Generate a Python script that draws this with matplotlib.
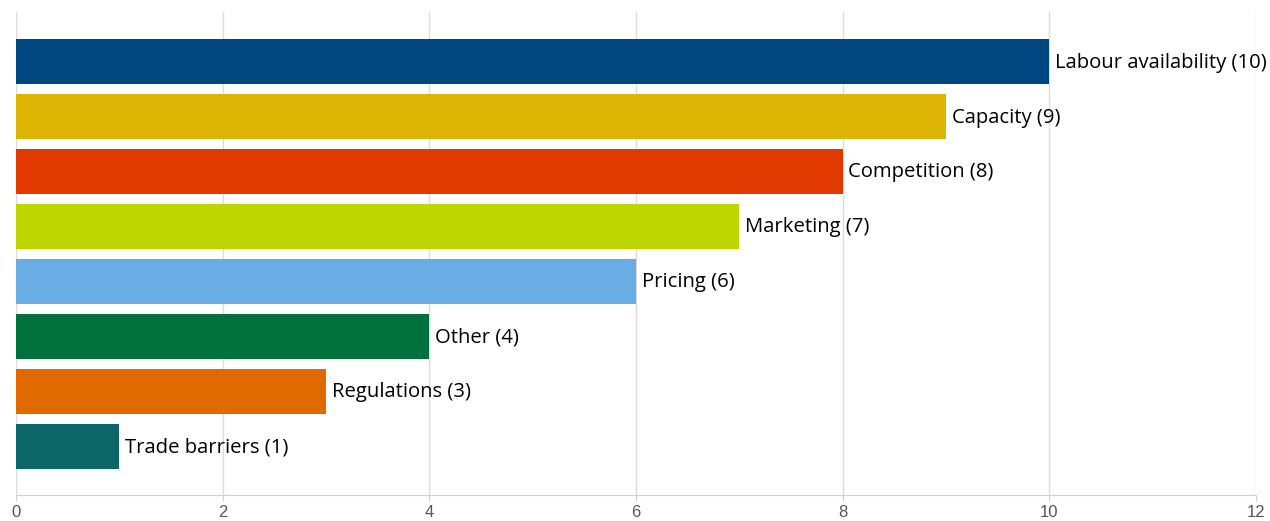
import matplotlib.pyplot as plt

categories = ['Labour availability', 'Capacity', 'Competition', 'Marketing',
              'Pricing', 'Other', 'Regulations', 'Trade barriers']
counts = [10, 9, 8, 7, 6, 4, 3, 1]
colors = ['#00467f', '#ddb504', '#e03a00', '#bfd700',
          '#6aade4', '#00703c', '#e06a00', '#0b6767']
x_ticks = [0, 2, 4, 6, 8, 10, 12]

fig = plt.figure(figsize=(12.7, 5.21), dpi=100)
ax = fig.add_axes([16 / 1270, 26 / 521, 1240 / 1270, 483 / 521])

y = range(len(categories))
ax.barh(y, counts, height=0.82, color=colors, zorder=2)

# value labels to the right of each bar
for i, (name, v) in enumerate(zip(categories, counts)):
    ax.text(v + 0.055, i + 0.02, f'{name} ({v})', va='center', ha='left',
            fontsize=14.6, family='Open Sans', color='#000000', zorder=3)

ax.set_xlim(0, 12)
ax.set_ylim(7.89, -0.9)
ax.set_xticks(x_ticks)
ax.set_yticks([])
ax.grid(axis='x', color='#dcdcdc', linewidth=1, zorder=0)
for side in ['top', 'right', 'left']:
    ax.spines[side].set_visible(False)
ax.spines['bottom'].set_color('#d0d0d0')
ax.tick_params(axis='x', length=4, color='#d0d0d0', labelsize=12,
               labelcolor='#555555', pad=3)
for lbl in ax.get_xticklabels():
    lbl.set_family('Liberation Sans')

plt.savefig('out.png', dpi=100)
plt.close()
